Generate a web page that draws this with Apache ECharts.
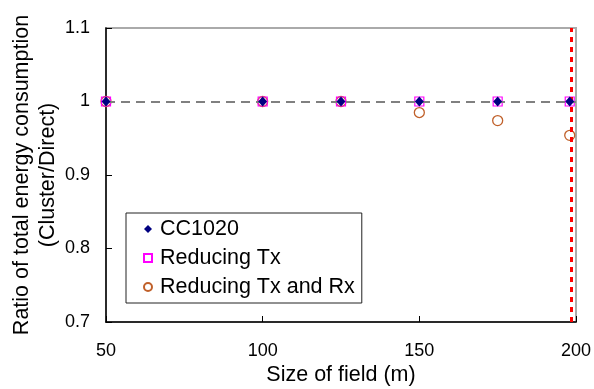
<!DOCTYPE html>
<html>
<head>
<meta charset="utf-8">
<script src="https://cdn.jsdelivr.net/npm/echarts@6/dist/echarts.min.js"></script>
<style>
html,body{margin:0;padding:0;background:#fff;}
#chart{width:594px;height:389px;}
</style>
</head>
<body>
<div id="chart"></div>
<script>
var fieldSize = [50, 100, 125, 150, 175, 198];
var cc1020 = [1, 1, 1, 1, 1, 1];
var reducingTx = [1, 1, 1, 1, 1, 1];
var reducingTxRx = [1, 1, 1, 0.985, 0.974, 0.954];
var seriesNames = ['CC1020', 'Reducing Tx', 'Reducing Tx and Rx'];
var referenceLevel = 1;
var limitField = 198.4;
var xTicks = [50, 100, 150, 200];
var yTicks = [0.7, 0.8, 0.9, 1.0, 1.1];

function pairs(xs, ys) { return xs.map(function (x, i) { return [x, ys[i]]; }); }

var FONT = 'Arial, "Liberation Sans", sans-serif';
var chart = echarts.init(document.getElementById('chart'), null, {renderer: 'canvas'});
chart.setOption({
  animation: false,
  backgroundColor: '#fff',
  grid: {left: 106, top: 28, width: 470, height: 294, show: true, borderColor: '#aaaaaa', borderWidth: 2,
         containLabel: false, outerBoundsMode: 'none'},
  xAxis: {
    type: 'value', min: xTicks[0], max: xTicks[xTicks.length - 1], interval: 50,
    name: 'Size of field (m)', nameLocation: 'middle', nameGap: 42, nameMoveOverlap: false,
    nameTextStyle: {fontFamily: FONT, fontSize: 21.5, color: '#000'},
    axisLine: {show: true, onZero: false, lineStyle: {color: '#000', width: 1.5}},
    axisTick: {show: true, inside: true, length: 6, lineStyle: {color: '#000'}},
    axisLabel: {fontFamily: FONT, fontSize: 18, color: '#000', margin: 20},
    splitLine: {show: false}
  },
  yAxis: {
    type: 'value', min: yTicks[0], max: yTicks[yTicks.length - 1], interval: 0.1,
    name: 'Ratio of total energy consumption\n(Cluster/Direct)', nameLocation: 'middle', nameGap: 45, nameRotate: 90,
    nameMoveOverlap: false,
    nameTextStyle: {fontFamily: FONT, fontSize: 21.5, color: '#000', lineHeight: 26, align: 'center'},
    axisLine: {show: true, onZero: false, lineStyle: {color: '#000', width: 1.5}},
    axisTick: {show: true, inside: true, length: 6, lineStyle: {color: '#000'}},
    axisLabel: {fontFamily: FONT, fontSize: 18, color: '#000', margin: 16},
    splitLine: {show: false}
  },
  legend: {
    orient: 'vertical', left: 126, top: 213,
    backgroundColor: '#fff', borderColor: '#222', borderWidth: 1,
    padding: [5, 7, 5, 17],
    itemWidth: 8, itemHeight: 8, itemGap: 7,
    textStyle: {fontFamily: FONT, fontSize: 21.5, color: '#000', lineHeight: 22, padding: [0, 0, 0, 3]},
    data: seriesNames
  },
  series: [
    {
      name: seriesNames[0], type: 'scatter', z: 5, data: pairs(fieldSize, cc1020),
      symbol: 'diamond', symbolSize: [9, 10], itemStyle: {color: '#000080', opacity: 1},
      markLine: {
        silent: true, symbol: 'none', label: {show: false},
        lineStyle: {color: '#808080', type: [9, 6], width: 2},
        data: [{yAxis: referenceLevel}]
      }
    },
    {
      name: seriesNames[1], type: 'scatter', z: 4, data: pairs(fieldSize, reducingTx),
      symbol: 'rect', symbolSize: 9,
      itemStyle: {color: 'rgba(255,255,255,0)', borderColor: '#ff00ff', borderWidth: 1.2, opacity: 1}
    },
    {
      name: seriesNames[2], type: 'scatter', z: 3, data: pairs(fieldSize, reducingTxRx),
      symbol: 'circle', symbolSize: 10,
      itemStyle: {color: 'rgba(255,255,255,0)', borderColor: '#c0602a', borderWidth: 1.3, opacity: 1},
      markLine: {
        silent: true, symbol: 'none', label: {show: false},
        lineStyle: {color: '#ff0000', type: [5, 5], width: 3},
        data: [{xAxis: limitField}]
      }
    }
  ]
});
</script>
</body>
</html>
